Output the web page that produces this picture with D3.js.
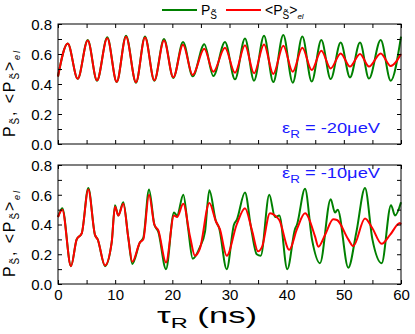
<!DOCTYPE html>
<html>
<head>
<meta charset="utf-8">
<script src="https://cdn.jsdelivr.net/npm/d3@7"></script>
<style>
  body { margin: 0; background: #fff; }
  svg text { font-family: "Liberation Sans", Arial, sans-serif; }
</style>
</head>
<body>
<div id="plot"></div>
<script>
// top panel (eps_R = -20 ueV): extrema of both curves, times in ns
var topTime  = [0, 1.70, 3.45, 5.20, 6.82, 8.62, 10.27, 11.90, 13.64, 15.22, 16.85, 18.54, 20.17, 21.87, 23.56,
                25.59, 27.17, 29.21, 30.96, 32.71, 34.29, 36.04, 37.66, 39.41, 41.06, 42.74, 44.38, 46.06,
                47.70, 49.45, 51.08, 52.83, 54.40, 56.45, 58.20, 60];
var topGreen = [0.45, 0.67, 0.435, 0.693, 0.422, 0.711, 0.413, 0.722, 0.409, 0.716, 0.422, 0.70, 0.44, 0.68, 0.451,
                0.665, 0.453, 0.68, 0.431, 0.704, 0.422, 0.722, 0.413, 0.727, 0.409, 0.716, 0.416, 0.693,
                0.433, 0.676, 0.444, 0.676, 0.436, 0.693, 0.422, 0.716];
var topRed   = [0.45, 0.67, 0.435, 0.69, 0.425, 0.705, 0.415, 0.715, 0.412, 0.71, 0.425, 0.69, 0.445, 0.662, 0.46,
                0.635, 0.482, 0.642, 0.475, 0.658, 0.471, 0.664, 0.467, 0.655, 0.482, 0.642, 0.493, 0.622,
                0.504, 0.604, 0.516, 0.60, 0.516, 0.604, 0.52, 0.60];

// bottom panel (eps_R = -10 ueV)
var botGreenTime = [0, 0.75, 2.27, 3.27, 4.15, 5.30, 6.47, 6.94, 8.22, 9.39, 9.97, 10.55, 11.42, 12.30, 13.00,
                    14.34, 14.92, 15.92, 16.85, 17.55, 18.89, 20.29, 20.82, 21.92, 22.74, 23.56, 24.84, 25.71,
                    26.47, 27.64, 28.16, 29.51, 30.79, 31.26, 32.71, 33.76, 34.76, 35.46, 36.96, 37.96, 38.71,
                    40.11, 41.46, 41.81, 43.21, 44.43, 45.83, 47.70, 48.45, 48.93, 50.78, 52.2, 53.70, 55.0,
                    56.62, 58.25, 58.95, 60];
var botGreen     = [0.45, 0.51, 0.12, 0.30, 0.34, 0.645, 0.33, 0.30, 0.12, 0.28, 0.53, 0.46, 0.55, 0.31, 0.135,
                    0.28, 0.31, 0.635, 0.40, 0.35, 0.10, 0.48, 0.46, 0.60, 0.38, 0.17, 0.25, 0.35,
                    0.63, 0.42, 0.38, 0.10, 0.40, 0.43, 0.615, 0.38, 0.20, 0.19, 0.60, 0.45, 0.46,
                    0.10, 0.37, 0.40, 0.64, 0.30, 0.14, 0.57, 0.48, 0.50, 0.11, 0.35, 0.645, 0.30,
                    0.14, 0.53, 0.46, 0.55];
var botRedTime   = [0, 0.75, 2.27, 3.27, 4.15, 5.30, 6.47, 6.94, 8.22, 9.39, 9.97, 10.55, 11.42, 12.30, 13.00,
                    14.34, 14.92, 15.92, 16.85, 17.55, 18.89, 20.29, 20.82, 21.92, 23.09, 23.96, 24.84, 26.47,
                    27.64, 28.3, 29.51, 31.26, 32.71, 33.94, 34.99, 35.69, 37.08, 37.96, 38.71, 40.46, 41.81,
                    43.21, 44.96, 45.54, 46.71, 48.16, 48.8, 50.78, 51.66, 53.70, 54.92, 56.62, 58.08, 59.82, 60];
var botRed       = [0.45, 0.50, 0.12, 0.30, 0.34, 0.635, 0.33, 0.30, 0.125, 0.28, 0.52, 0.46, 0.54, 0.31, 0.15,
                    0.28, 0.30, 0.60, 0.40, 0.36, 0.145, 0.46, 0.45, 0.54, 0.32, 0.19, 0.24, 0.545,
                    0.42, 0.37, 0.19, 0.40, 0.51, 0.36, 0.22, 0.25, 0.475, 0.46, 0.43, 0.23, 0.37,
                    0.475, 0.32, 0.25, 0.33, 0.435, 0.43, 0.30, 0.255, 0.44, 0.38, 0.27, 0.33, 0.41, 0.40];

var xTicks = [0, 5, 10, 15, 20, 25, 30, 35, 40, 45, 50, 55, 60];
var yTicks = [0, 0.1, 0.2, 0.3, 0.4, 0.5, 0.6, 0.7, 0.8];
var panelLabels = ["-20\u03bceV", "-10\u03bceV"];

var green = "#008000", red = "#ff0000", blue = "#1a1aff";
var S = "S\u0303";

var svg = d3.select("#plot").append("svg")
    .attr("width", 415)
    .attr("height", 334);

var x = d3.scaleLinear().domain([0, 60]).range([58, 401]);

var panels = [
    {top: 24, bottom: 144, series: [[topTime, topGreen], [topTime, topRed]], label: panelLabels[0], labelY: 133, titleY: 137, showX: false},
    {top: 165, bottom: 284, series: [[botGreenTime, botGreen], [botRedTime, botRed]], label: panelLabels[1], labelY: 178, titleY: 277, showX: true}
];

var fmtX = d => (d % 10 === 0 ? d : "");
var fmtY = d => (Math.round(d * 10) % 2 === 0 ? d3.format(".1f")(d) : "");

panels.forEach(function(p) {
    var y = d3.scaleLinear().domain([0, 0.8]).range([p.bottom, p.top]);

    // curves
    var line = d3.line()
        .x(d => x(d[0]))
        .y(d => y(d[1]))
        .curve(d3.curveMonotoneX);

    p.series.forEach(function(s, i) {
        var pts = s[0].map((t, k) => [t, s[1][k]]);
        svg.append("path")
            .datum(pts)
            .attr("fill", "none")
            .attr("stroke", i === 0 ? green : red)
            .attr("stroke-width", 2)
            .attr("d", line);
    });

    // axes, ticks inward on all four sides
    var gB = svg.append("g").attr("transform", "translate(0," + p.bottom + ")")
        .call(d3.axisBottom(x).tickValues(xTicks).tickSizeInner(-4).tickSizeOuter(0)
            .tickFormat(p.showX ? fmtX : ""));
    var gT = svg.append("g").attr("transform", "translate(0," + p.top + ")")
        .call(d3.axisTop(x).tickValues(xTicks).tickSizeInner(-4).tickSizeOuter(0).tickFormat(""));
    var gL = svg.append("g").attr("transform", "translate(58,0)")
        .call(d3.axisLeft(y).tickValues(yTicks).tickSizeInner(-4).tickSizeOuter(0).tickFormat(fmtY));
    var gR = svg.append("g").attr("transform", "translate(401,0)")
        .call(d3.axisRight(y).tickValues(yTicks).tickSizeInner(-4).tickSizeOuter(0).tickFormat(""));

    [gB, gT, gL, gR].forEach(function(g) {
        g.select(".domain").remove();
        g.selectAll("line").attr("stroke", "#000");
        g.selectAll("text").attr("fill", "#000").style("font-size", "15px");
    });
    gL.selectAll("text").attr("x", -6).attr("dy", "0.36em");
    gB.selectAll("text").attr("y", 5).attr("dy", "0.71em");

    svg.append("rect")
        .attr("x", 58).attr("y", p.top)
        .attr("width", 343).attr("height", p.bottom - p.top)
        .attr("fill", "none")
        .attr("stroke", "#000")
        .attr("stroke-width", 1);

    // epsilon label
    var lab = svg.append("text")
        .attr("x", 282).attr("y", p.labelY)
        .attr("fill", blue)
        .attr("textLength", 98)
        .attr("lengthAdjust", "spacingAndGlyphs")
        .style("font-size", "15px");
    lab.append("tspan").text("\u03b5");
    lab.append("tspan").attr("dy", 5).style("font-size", "11px").text("R");
    lab.append("tspan").attr("dy", -5).text(" = " + p.label);

    // y title
    var yt = svg.append("text")
        .attr("transform", "translate(15," + p.titleY + ") rotate(-90)")
        .attr("fill", "#000")
        .attr("textLength", 86)
        .attr("lengthAdjust", "spacing")
        .style("font-size", "16px");
    yt.append("tspan").text("P");
    yt.append("tspan").attr("dy", 4).style("font-size", "10px").text(S);
    yt.append("tspan").attr("dy", -4).text(", <P");
    yt.append("tspan").attr("dy", 4).style("font-size", "10px").text(S);
    yt.append("tspan").attr("dy", -4).text(">");
    yt.append("tspan").attr("dy", 5).style("font-size", "9px").style("font-style", "italic").text("el");
});

// x title
var xt = svg.append("text")
    .attr("x", 157).attr("y", 323)
    .attr("fill", "#000")
    .attr("textLength", 100)
    .attr("lengthAdjust", "spacingAndGlyphs")
    .style("font-size", "22px");
xt.append("tspan").text("\u03c4");
xt.append("tspan").attr("dy", 5).style("font-size", "15px").text("R");
xt.append("tspan").attr("dy", -5).text(" (ns)");

// legend
var legend = [
    {x1: 162, x2: 197, color: green, tx: 201, el: false},
    {x1: 226, x2: 261, color: red, tx: 265, el: true}
];
legend.forEach(function(l) {
    svg.append("line")
        .attr("x1", l.x1).attr("x2", l.x2)
        .attr("y1", 10).attr("y2", 10)
        .attr("stroke", l.color)
        .attr("stroke-width", 2);
    var t = svg.append("text")
        .attr("x", l.tx).attr("y", 15)
        .attr("fill", "#000")
        .style("font-size", "14px");
    t.append("tspan").text(l.el ? "<P" : "P");
    t.append("tspan").attr("dy", 4).style("font-size", "10px").text(S);
    if (l.el) {
        t.append("tspan").attr("dy", -4).text(">");
        t.append("tspan").attr("dy", 4).style("font-size", "8px").style("font-style", "italic").text("el");
    }
});
</script>
</body>
</html>
